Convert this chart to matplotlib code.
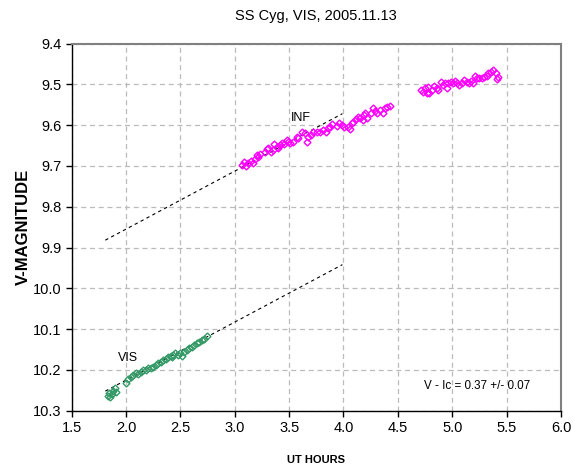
import matplotlib
matplotlib.use('Agg')
import matplotlib.pyplot as plt
from matplotlib.ticker import FormatStrFormatter

plt.rcParams['font.family'] = ['Liberation Sans', 'DejaVu Sans']

# INF series (UT hours, magnitude)
inf_x = [3.063, 3.087, 3.100, 3.124, 3.149, 3.170, 3.186, 3.204, 3.216, 3.232,
         3.278, 3.293, 3.308, 3.333, 3.354, 3.363, 3.385, 3.400, 3.415, 3.437,
         3.455, 3.477, 3.492, 3.507, 3.538, 3.569, 3.584, 3.620, 3.645, 3.664,
         3.676, 3.700, 3.722, 3.753, 3.783, 3.813, 3.836, 3.854, 3.875, 3.896,
         3.937, 3.960, 3.983, 4.004, 4.043, 4.059, 4.074, 4.089, 4.114, 4.135,
         4.151, 4.176, 4.188, 4.212, 4.197, 4.249, 4.267, 4.289, 4.310, 4.335,
         4.359, 4.380, 4.396, 4.426,
         4.709, 4.727, 4.748, 4.764, 4.788, 4.779, 4.810, 4.831, 4.856, 4.870,
         4.892, 4.916, 4.932, 4.953, 4.962, 4.984, 5.008, 5.024, 5.040, 5.063,
         5.085, 5.107, 5.131, 5.155, 5.168, 5.192, 5.208, 5.223, 5.247, 5.269,
         5.290, 5.315, 5.330, 5.352, 5.376, 5.401, 5.422, 5.407]
inf_y = [9.698, 9.690, 9.700, 9.694, 9.688, 9.694, 9.683, 9.673, 9.677, 9.672,
         9.665, 9.659, 9.657, 9.667, 9.661, 9.647, 9.653, 9.657, 9.649, 9.645,
         9.647, 9.637, 9.641, 9.645, 9.641, 9.628, 9.632, 9.616, 9.620, 9.641,
         9.628, 9.624, 9.616, 9.618, 9.616, 9.612, 9.618, 9.608, 9.604, 9.598,
         9.602, 9.596, 9.600, 9.604, 9.604, 9.610, 9.596, 9.592, 9.586, 9.579,
         9.583, 9.588, 9.575, 9.583, 9.571, 9.571, 9.559, 9.565, 9.570, 9.563,
         9.570, 9.559, 9.555, 9.553,
         9.514, 9.518, 9.510, 9.522, 9.522, 9.506, 9.514, 9.504, 9.510, 9.514,
         9.494, 9.502, 9.498, 9.510, 9.498, 9.494, 9.498, 9.491, 9.496, 9.502,
         9.498, 9.489, 9.494, 9.498, 9.491, 9.498, 9.480, 9.485, 9.485, 9.485,
         9.483, 9.480, 9.473, 9.469, 9.465, 9.473, 9.481, 9.488]

# VIS series
vis_x = [1.832, 1.844, 1.853, 1.869, 1.883, 1.899, 1.905, 1.997, 2.021, 2.046,
         2.067, 2.089, 2.113, 2.138, 2.159, 2.181, 2.205, 2.230, 2.251, 2.273,
         2.297, 2.322, 2.343, 2.365, 2.389, 2.414, 2.426, 2.435, 2.450, 2.475,
         2.496, 2.512, 2.536, 2.558, 2.579, 2.604, 2.628, 2.650, 2.668, 2.696,
         2.720, 2.742]
vis_y = [10.264, 10.256, 10.267, 10.259, 10.251, 10.245, 10.253, 10.231, 10.223, 10.217,
         10.213, 10.208, 10.210, 10.204, 10.200, 10.199, 10.196, 10.196, 10.192, 10.188,
         10.184, 10.180, 10.176, 10.174, 10.169, 10.166, 10.169, 10.163, 10.159, 10.163,
         10.159, 10.166, 10.155, 10.151, 10.147, 10.143, 10.139, 10.135, 10.131, 10.127,
         10.123, 10.117]

# trend lines
trend_x = [1.81, 3.99]
inf_trend = [9.882, 9.572]
vis_trend = [10.252, 9.942]

fig = plt.figure(figsize=(5.75, 4.74), dpi=100)
ax = fig.add_axes([0.1245, 0.1335, 0.8512, 0.7747])

ax.plot(trend_x, inf_trend, color='black', lw=0.8, dashes=(3, 3), zorder=3)
ax.plot(trend_x, vis_trend, color='black', lw=0.8, dashes=(3, 3), zorder=3)
ax.plot(inf_x, inf_y, 'D', ms=3.5, mfc='none', mec='#FF00FF', mew=1.0, zorder=4)
ax.plot(vis_x, vis_y, 'D', ms=3.5, mfc='none', mec='#339966', mew=1.0, zorder=4)

ax.set_xlim(1.5, 6.0)
ax.set_ylim(10.3, 9.4)
ax.set_xticks([1.5, 2.0, 2.5, 3.0, 3.5, 4.0, 4.5, 5.0, 5.5, 6.0])
ax.set_yticks([9.4, 9.5, 9.6, 9.7, 9.8, 9.9, 10.0, 10.1, 10.2, 10.3])
ax.xaxis.set_major_formatter(FormatStrFormatter('%.1f'))
ax.yaxis.set_major_formatter(FormatStrFormatter('%.1f'))
ax.tick_params(labelsize=10.5, direction='out', length=4, width=1, color='black')
ax.grid(True, color='#BBBBBB', linestyle=(0, (4, 3)), lw=0.9)
ax.set_axisbelow(True)

for s in ['top', 'right']:
    ax.spines[s].set_color('#808080')
    ax.spines[s].set_linewidth(1.5)
for s in ['left', 'bottom']:
    ax.spines[s].set_color('black')
    ax.spines[s].set_linewidth(1.0)

ax.text(3.52, 9.583, 'INF', fontsize=9, va='center', ha='left')
ax.text(1.93, 10.17, 'VIS', fontsize=9, va='center', ha='left')
ax.text(4.74, 10.24, 'V - Ic = 0.37 +/- 0.07', fontsize=8.4, va='center', ha='left')

ax.set_title('SS Cyg, VIS, 2005.11.13', fontsize=10.5, pad=17)
ax.set_ylabel('V-MAGNITUDE', fontsize=12, fontweight='bold', labelpad=1)
ax.set_xlabel('UT HOURS', fontsize=8, fontweight='bold', labelpad=14)

fig.savefig('out.png', dpi=100)
